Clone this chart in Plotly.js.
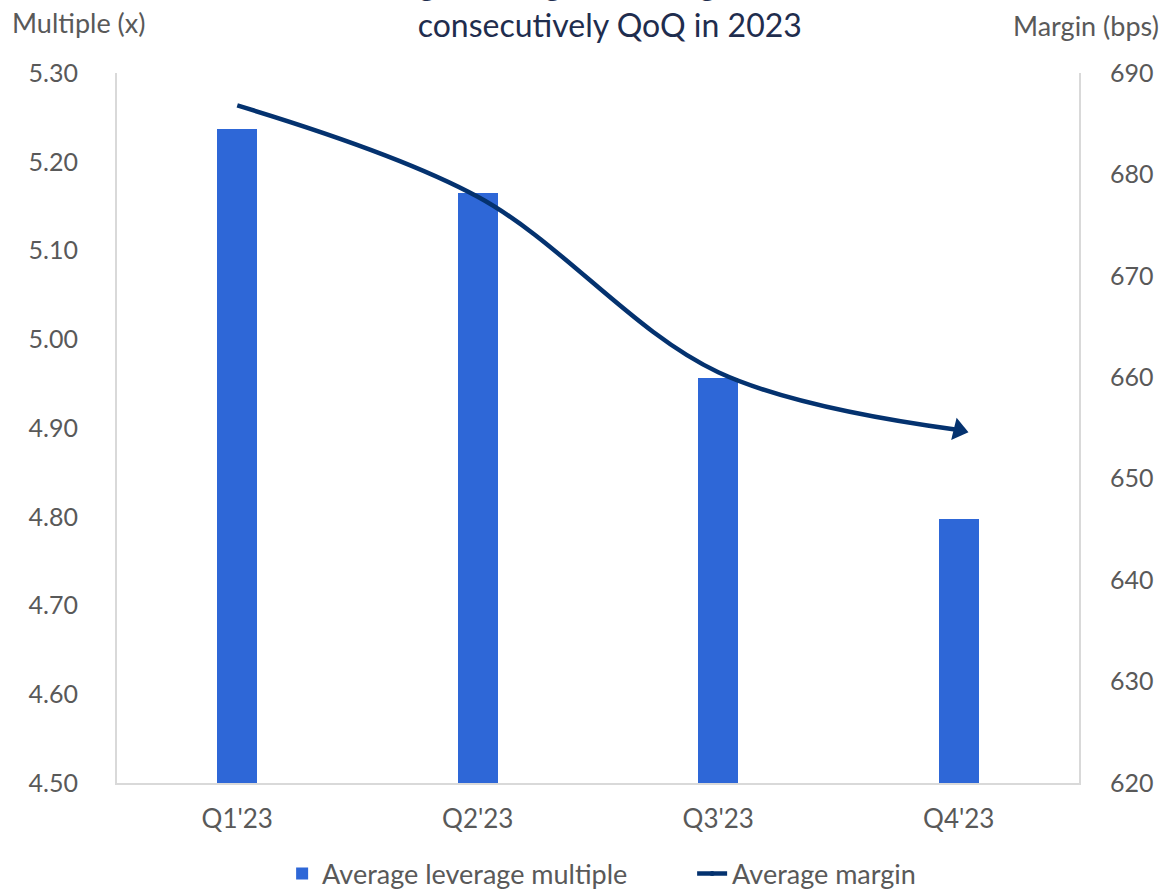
<!DOCTYPE html>
<html>
<head>
<meta charset="utf-8">
<script src="https://cdn.plot.ly/plotly-3.0.1.min.js"></script>
<style>html,body{margin:0;padding:0;background:#fff;}#chart{width:1161px;height:892px;}</style>
</head>
<body>
<div id="chart"></div>
<script>
const quarters = ["Q1'23", "Q2'23", "Q3'23", "Q4'23"];
const leverageMultiple = [5.237, 5.165, 4.956, 4.797];
const marginBps = [686.8, 677.8, 660.5, 654.8];
const leftTicks = [4.5, 4.6, 4.7, 4.8, 4.9, 5.0, 5.1, 5.2, 5.3];
const rightTicks = [620, 630, 640, 650, 660, 670, 680, 690];
const seriesNames = ["Average leverage multiple", "Average margin"];

const FONT = "Lato, 'Open Sans', sans-serif";
const GREY = "#595959";

const traces = [
  {
    type: "bar",
    x: quarters,
    y: leverageMultiple,
    name: seriesNames[0],
    marker: {color: "#2E67D7", line: {width: 0}},
    width: 0.166,
    yaxis: "y"
  },
  {
    type: "scatter",
    mode: "lines+markers",
    x: quarters,
    y: marginBps,
    name: seriesNames[1],
    yaxis: "y2",
    line: {color: "#04326F", width: 4.5, shape: "spline", smoothing: 1},
    marker: {
      symbol: ["circle", "circle", "circle", "triangle-up"],
      size: [0, 0, 0, 20],
      angleref: "previous",
      color: "#04326F",
      opacity: 1,
      line: {width: 0}
    }
  }
];

const layout = {
  width: 1161,
  height: 892,
  paper_bgcolor: "#ffffff",
  plot_bgcolor: "#ffffff",
  margin: {l: 117, r: 82, t: 73, b: 109},
  font: {family: FONT, color: GREY, size: 25},
  showlegend: true,
  legend: {
    orientation: "h",
    x: 0.243, xanchor: "left", xref: "container",
    y: (892 - 874) / 892, yanchor: "middle", yref: "container",
    font: {family: FONT, size: 27, color: GREY},
    entrywidth: 365,
    entrywidthmode: "pixels",
    tracegroupgap: 0
  },
  bargap: 0,
  xaxis: {
    type: "category",
    range: [-0.5, 3.5],
    automargin: false,
    showline: true, linecolor: "#D9D9D9", linewidth: 2,
    ticks: "", showgrid: false, zeroline: false,
    tickfont: {family: FONT, size: 26, color: GREY},
    ticklabelstandoff: 12
  },
  yaxis: {
    range: [4.5, 5.3],
    automargin: false,
    tickvals: leftTicks,
    tickformat: ".2f",
    showline: true, linecolor: "#D9D9D9", linewidth: 2,
    ticks: "", showgrid: false, zeroline: false,
    tickfont: {family: FONT, size: 25, color: GREY},
    ticklabelstandoff: 32
  },
  yaxis2: {
    range: [620, 690],
    automargin: false,
    tickvals: rightTicks,
    overlaying: "y",
    side: "right",
    showline: true, linecolor: "#D9D9D9", linewidth: 2,
    ticks: "", showgrid: false, zeroline: false,
    tickfont: {family: FONT, size: 25, color: GREY},
    ticklabelstandoff: 24
  },
  annotations: [
    {
      text: "Average leverage and margins declined<br>consecutively QoQ in 2023",
      xref: "paper", yref: "paper",
      x: (610 - 117) / 962, xanchor: "center",
      y: 1 + (73 - 46) / 710, yanchor: "bottom",
      showarrow: false,
      font: {family: FONT, size: 32, color: "#1F2D4E"},
      align: "center"
    },
    {
      text: "Multiple (x)",
      xref: "paper", yref: "paper",
      x: -107 / 962, xanchor: "left",
      y: 1 + (73 - 22) / 710, yanchor: "middle",
      showarrow: false,
      font: {family: FONT, size: 27, color: GREY}
    },
    {
      text: "Margin (bps)",
      xref: "paper", yref: "paper",
      x: 1 + 82 / 962, xanchor: "right",
      y: 1 + (73 - 25) / 710, yanchor: "middle",
      showarrow: false,
      font: {family: FONT, size: 27, color: GREY}
    }
  ]
};

Plotly.newPlot("chart", traces, layout, {displayModeBar: false, staticPlot: true});
</script>
</body>
</html>
